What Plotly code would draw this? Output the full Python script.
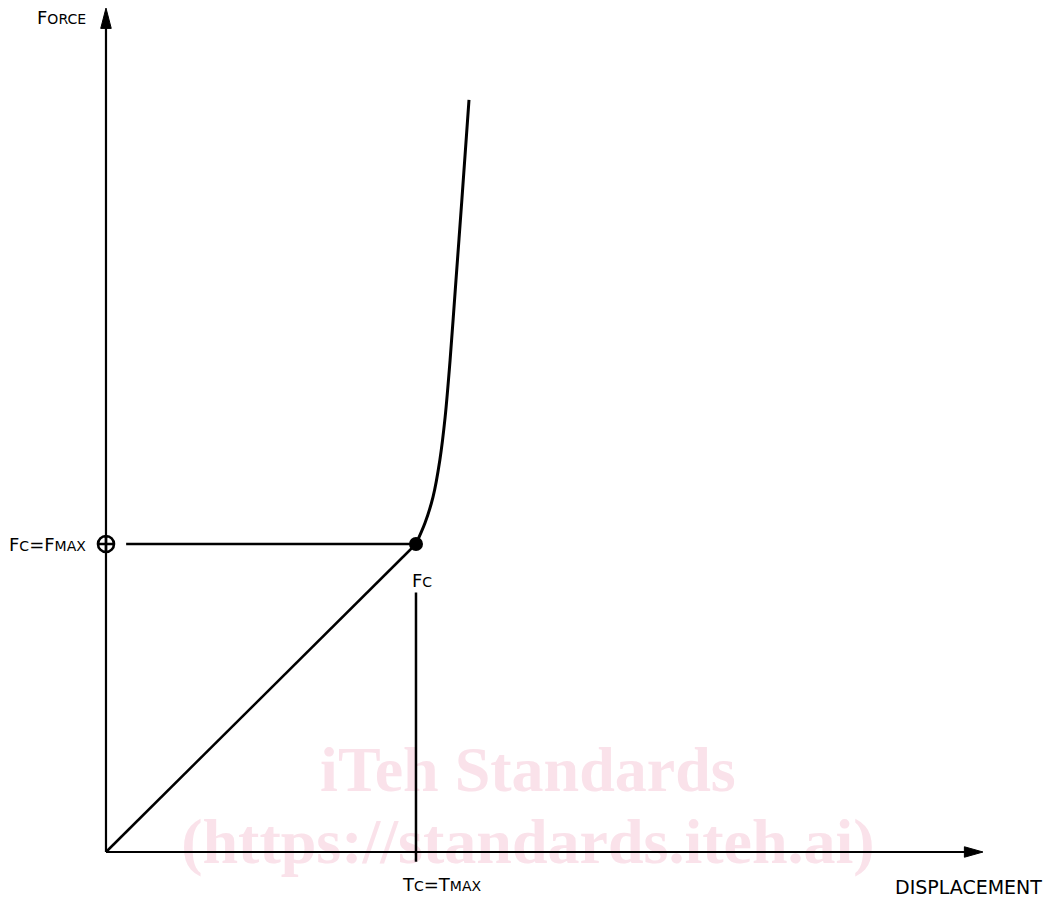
import plotly.graph_objects as go

# ---- data (displacement in units of Tmax, force in units of Fmax) ----
linear_x = [0.0, 1.0]
linear_y = [0.0, 1.0]
curve_x = [1.0, 1.029, 1.055, 1.077, 1.094, 1.110, 1.129, 1.148, 1.171]
curve_y = [1.0, 1.068, 1.153, 1.273, 1.412, 1.597, 1.857, 2.117, 2.442]
fc_x = [1.0]
fc_y = [1.0]
x_axis_end = 2.829
y_axis_end = 2.740
hline_start = 0.065
vline_bottom = -0.032
vline_top = 0.844

FONT = "DejaVu Sans"
BIG = 18
SMALL = 14


def sc(big, small):
    return f'{big}<span style="font-size:{SMALL}px">{small}</span>'


fig = go.Figure()

# watermark (drawn first so lines sit on top)
fig.add_trace(go.Scatter(
    x=[1.361, 1.361], y=[0.250, 0.017], mode="text",
    text=["<b>iTeh Standards</b>", "<b>(https://standards.iteh.ai)</b>"],
    textfont=dict(family="Liberation Serif", size=64, color="rgb(250,226,234)"),
    hoverinfo="skip", showlegend=False))

line = dict(color="black", width=2.2)

# axes
fig.add_trace(go.Scatter(x=[0, x_axis_end - 0.03], y=[0, 0], mode="lines",
                         line=line, showlegend=False, hoverinfo="skip"))
fig.add_trace(go.Scatter(x=[0, 0], y=[0, y_axis_end - 0.03], mode="lines",
                         line=line, showlegend=False, hoverinfo="skip"))

# guide lines
fig.add_trace(go.Scatter(x=[hline_start, fc_x[0]], y=[fc_y[0], fc_y[0]], mode="lines",
                         line=dict(color="black", width=2.5), showlegend=False))
fig.add_trace(go.Scatter(x=[fc_x[0], fc_x[0]], y=[vline_top, vline_bottom], mode="lines",
                         line=dict(color="black", width=2.5), showlegend=False))

# linear part
fig.add_trace(go.Scatter(x=linear_x, y=linear_y, mode="lines",
                         line=dict(color="black", width=2.5), showlegend=False))
# stiffening curve
fig.add_trace(go.Scatter(x=curve_x, y=curve_y, mode="lines",
                         line=dict(color="black", width=3, shape="spline", smoothing=0.8),
                         showlegend=False))
# Fc point
fig.add_trace(go.Scatter(x=fc_x, y=fc_y, mode="markers",
                         marker=dict(color="black", size=14), showlegend=False))
# Fmax marker on force axis
fig.add_trace(go.Scatter(x=[0], y=fc_y, mode="markers",
                         marker=dict(symbol="circle-cross-open", color="black", size=16,
                                     line=dict(width=2.6, color="black")),
                         showlegend=False))

# arrowheads
ax_len, ax_hw_y = 0.060, 0.017
ay_len, ay_hw_x = 0.066, 0.017
fig.add_shape(type="path",
              path=f"M {x_axis_end} 0 L {x_axis_end - ax_len} {ax_hw_y} L {x_axis_end - ax_len} {-ax_hw_y} Z",
              fillcolor="black", line=dict(color="black", width=1))
fig.add_shape(type="path",
              path=f"M 0 {y_axis_end} L {ay_hw_x} {y_axis_end - ay_len} L {-ay_hw_x} {y_axis_end - ay_len} Z",
              fillcolor="black", line=dict(color="black", width=1))

# labels
tf = dict(family=FONT, size=BIG, color="black")
fig.add_annotation(x=-0.142, y=2.711, text=sc("F", "ORCE"), showarrow=False, font=tf,
                   xanchor="center", yanchor="middle")
fig.add_annotation(x=2.781, y=-0.114, text="DISPLACEMENT", showarrow=False,
                   font=dict(family=FONT, size=19, color="black"),
                   xanchor="center", yanchor="middle")
fig.add_annotation(x=-0.058, y=1.0, text=sc("F", "C") + "=" + sc("F", "MAX"), showarrow=False,
                   font=tf, xanchor="right", yanchor="middle")
fig.add_annotation(x=1.019, y=0.883, text=sc("F", "C"), showarrow=False, font=tf,
                   xanchor="center", yanchor="middle", bgcolor="white")
fig.add_annotation(x=1.084, y=-0.107, text=sc("T", "C") + "=" + sc("T", "MAX"), showarrow=False,
                   font=tf, xanchor="center", yanchor="middle")

fig.update_xaxes(range=[-0.3419, 3.0355], visible=False, showgrid=False, zeroline=False)
fig.update_yaxes(range=[-0.1461, 2.7662], visible=False, showgrid=False, zeroline=False)
fig.update_layout(width=1047, height=897, margin=dict(l=0, r=0, t=0, b=0),
                  plot_bgcolor="white", paper_bgcolor="white", showlegend=False)

fig.write_html("out.html", config={"displayModeBar": False},
               post_script="document.body.style.margin='0';document.body.style.overflow='hidden';")
